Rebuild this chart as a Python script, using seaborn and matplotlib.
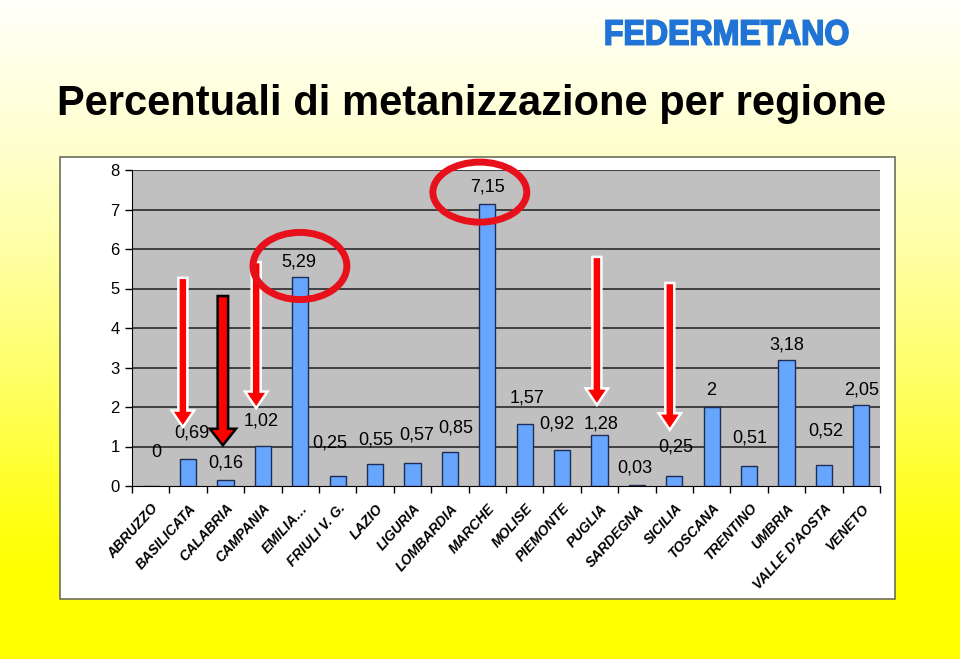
import numpy as np
import matplotlib
matplotlib.use("Agg")
import matplotlib.pyplot as plt
import seaborn as sns
from matplotlib.patches import Rectangle, Ellipse, PathPatch
from matplotlib.textpath import TextPath
from matplotlib.font_manager import FontProperties
import matplotlib.transforms as mtransforms

# ---------------- data ----------------
regions = ["ABRUZZO", "BASILICATA", "CALABRIA", "CAMPANIA", "EMILIA…",
           "FRIULI V. G.", "LAZIO", "LIGURIA", "LOMBARDIA", "MARCHE",
           "MOLISE", "PIEMONTE", "PUGLIA", "SARDEGNA", "SICILIA",
           "TOSCANA", "TRENTINO", "UMBRIA", "VALLE D'AOSTA", "VENETO"]
values = [0, 0.69, 0.16, 1.02, 5.29, 0.25, 0.55, 0.57, 0.85, 7.15,
          1.57, 0.92, 1.28, 0.03, 0.25, 2, 0.51, 3.18, 0.52, 2.05]
yticks = [0, 1, 2, 3, 4, 5, 6, 7, 8]

# label placement (Excel-style free-floating data labels)
label_y = [0.86, 1.34, 0.58, 1.65, 5.67, 1.09, 1.16, 1.28, 1.47, 7.57,
           2.23, 1.56, 1.56, 0.46, 0.99, 2.42, 1.22, 3.58, 1.39, 2.43]
label_dx = [0.15, 0.1, 0.0, -0.05, -0.05, -0.2, 0.03, 0.1, 0.15, 0.0,
            0.05, -0.15, 0.05, -0.05, 0.05, -0.02, 0.03, 0.0, 0.05, 0.0]

# annotation arrows (x, top, tip) and highlight ellipses
arrow_x = [0.86, 1.93, 2.82, 11.93, 13.88]
arrow_top = [5.27, 4.81, 5.67, 5.80, 5.14]
arrow_tip = [1.49, 1.03, 1.97, 2.05, 1.42]
arrow_edge = ["white", "black", "white", "white", "white"]
ellipse_xy = [(3.99, 5.57), (8.80, 7.44)]
ellipse_wh = [(2.51, 1.70), (2.51, 1.52)]

title = "Percentuali di metanizzazione per regione"
logo = "FEDERMETANO"

# ---------------- figure ----------------
plt.rcParams["font.family"] = ["Liberation Sans", "DejaVu Sans"]
W, H = 960, 659
fig = plt.figure(figsize=(W / 100, H / 100), dpi=100)

# gradient background
bg = fig.add_axes([0, 0, 1, 1], zorder=-10)
ys = np.array([0, 150, 250, 400, 520, 575, 659])
bs = np.array([250, 205, 165, 90, 20, 0, 0]) / 255.0
yy = np.arange(H)
b = np.interp(yy, ys, bs)
img = np.ones((H, 2, 3))
img[:, :, 2] = b[:, None]
bg.imshow(img, aspect="auto", extent=[0, 1, 0, 1], origin="upper")
bg.set_axis_off()

# white chart box
box = Rectangle((60 / W, 1 - 599 / H), 835 / W, 442 / H, transform=fig.transFigure,
                facecolor="white", edgecolor="#6e6e5a", linewidth=1.2, zorder=-5)
fig.add_artist(box)

# title
fig.text(57 / W, 1 - 115 / H, title, fontsize=30, fontweight="bold", color="black",
         ha="left", va="baseline")

# logo
tp = TextPath((0, 0), logo, size=100, prop=FontProperties(family="Liberation Sans", weight="bold"))
bb = tp.get_extents()
x0, x1, ytop, ybot = 606, 848, 20, 45
tr = (mtransforms.Affine2D().translate(-bb.x0, -bb.y0)
      .scale((x1 - x0) / bb.width, (ybot - ytop) / bb.height)
      .translate(x0, H - ybot))
fig.add_artist(PathPatch(tp, transform=tr, facecolor="#1f74d6", edgecolor="#1f74d6",
                         linewidth=1.2))

# main axes
ax = fig.add_axes([132 / W, 1 - 486 / H, (880 - 132) / W, (486 - 170) / H])
ax.set_facecolor("#c0c0c0")
sns.barplot(x=regions, y=values, color="#66a6ff", saturation=1, width=0.43,
            edgecolor="#1f2d55", linewidth=1, ax=ax, zorder=3)
ax.set_ylim(0, 8)
ax.set_xlim(-0.5, len(regions) - 0.5)
ax.set_yticks(yticks)
ax.set_yticklabels([str(t) for t in yticks], fontsize=12)
for t in yticks[1:]:
    ax.axhline(t, color="#1e1e1e", linewidth=1.1, zorder=1)
for s in ["top", "right"]:
    ax.spines[s].set_visible(False)
ax.spines["left"].set_color("black")
ax.spines["bottom"].set_color("black")
ax.tick_params(axis="y", length=5, width=1, color="black", pad=4)
ax.set_xticks(range(len(regions)))
ax.set_xticklabels(regions, rotation=48, ha="right", rotation_mode="anchor",
                   fontsize=10, fontweight="bold", fontstyle="italic")
ax.tick_params(axis="x", which="major", length=0, pad=11)
ax.set_xticks(np.arange(-0.5, len(regions), 1.0), minor=True)
ax.tick_params(axis="x", which="minor", length=5, width=1, color="black")
ax.set_xlabel("")
ax.set_ylabel("")

# data labels
for i, v in enumerate(values):
    txt = f"{v:g}".replace(".", ",")
    ax.text(i + label_dx[i], label_y[i], txt, ha="center", va="center",
            fontsize=13, color="black", zorder=5)

# arrows
for x, top, tip, ec in zip(arrow_x, arrow_top, arrow_tip, arrow_edge):
    sw = 0.28 if ec == "black" else 0.24
    hw = 0.70 if ec == "black" else 0.60
    ax.arrow(x, top, 0, tip - top, width=sw, head_width=hw, head_length=0.42,
             length_includes_head=True, facecolor="#ff0000", edgecolor=ec,
             linewidth=1.8, zorder=6, clip_on=False)

# ellipses
for (cx, cy), (w, h) in zip(ellipse_xy, ellipse_wh):
    ax.add_patch(Ellipse((cx, cy), w, h, fill=False, edgecolor="#e8101a",
                         linewidth=5, zorder=7, clip_on=False))

fig.savefig("out.png", dpi=100)
